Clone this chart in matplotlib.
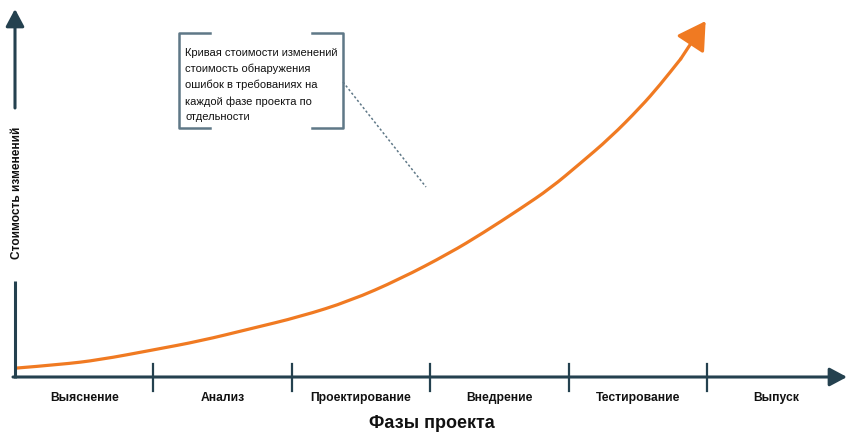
import matplotlib
matplotlib.use("Agg")
import matplotlib.pyplot as plt
from matplotlib import font_manager
from matplotlib.path import Path
from matplotlib.patches import PathPatch

# ---------------- data ----------------
phases = ["Выяснение", "Анализ", "Проектирование", "Внедрение", "Тестирование", "Выпуск"]
curve_phase = [0.01, 0.33, 0.61, 1.00, 1.34, 1.70, 2.06, 2.42, 2.78, 3.14, 3.38,
               3.65, 3.87, 4.08, 4.30, 4.52, 4.66, 4.81, 4.99]
curve_cost = [2.5, 3.5, 4.8, 7.6, 10.1, 13.5, 16.9, 21.3, 27.4, 34.7, 40.3,
              47.1, 52.9, 59.7, 67.0, 75.6, 81.8, 89.1, 99.7]
phase_ticks = [1, 2, 3, 4, 5]
ylabel = "Стоимость изменений"
xlabel = "Фазы проекта"
note = ("Кривая стоимости изменений\nстоимость обнаружения\nошибок в требованиях на\n"
        "каждой фазе проекта по\nотдельности")

# ---------------- style ----------------
W, H = 847, 434
ORANGE = "#f07a22"
AXC = "#24414f"
BRC = "#5f7887"

names = {f.name for f in font_manager.fontManager.ttflist}
FAM = [n for n in ["Liberation Sans", "DejaVu Sans"] if n in names]
plt.rcParams["font.family"] = FAM

fig = plt.figure(figsize=(W / 100, H / 100), dpi=100)
ax = fig.add_axes([0, 0, 1, 1])
ax.set_axis_off()

# pixel -> data mapping (layout only)
X0, PX_PER_PHASE = 15.0, 138.4
Y0, PX_PER_COST = 377.0, 3.57
def px(x):
    return (x - X0) / PX_PER_PHASE
def py(y):
    return (Y0 - y) / PX_PER_COST

ax.set_xlim(px(0), px(W))
ax.set_ylim(py(H), py(0))

# axes lines with arrows
ax.annotate("", xy=(px(847), 0), xytext=(px(13), 0),
            arrowprops=dict(arrowstyle="-|>,head_length=0.75,head_width=0.4",
                            mutation_scale=14, color=AXC, lw=2.2, shrinkA=0, shrinkB=0))
ax.annotate("", xy=(0, py(9)), xytext=(0, py(108)),
            arrowprops=dict(arrowstyle="-|>,head_length=0.75,head_width=0.4",
                            mutation_scale=14, color=AXC, lw=2.2, shrinkA=0, shrinkB=0))
ax.plot([0, 0], [py(281), py(378)], color=AXC, lw=2.2, solid_capstyle="butt")

for t in phase_ticks:
    ax.plot([t, t], [py(364), py(391)], color=AXC, lw=1.6)

# phase labels
for i, name in enumerate(phases):
    ax.text(i + 0.5, py(398), name, ha="center", va="center", fontsize=8.7,
            fontweight="bold", color="#111111")
ax.text(px(432), py(424), xlabel, ha="center", va="center", fontsize=13,
        fontweight="bold", color="#111111")
ax.text(px(17), py(193), ylabel, ha="center", va="center", rotation=90,
        fontsize=8.6, fontweight="bold", color="#111111")

# cost curve (smooth quadratic path through the read points, arrow on last segment)
pts = list(zip(curve_phase[:-1], curve_cost[:-1]))
verts = [pts[0]]
codes = [Path.MOVETO]
for k in range(1, len(pts) - 1):
    mid = ((pts[k][0] + pts[k + 1][0]) / 2, (pts[k][1] + pts[k + 1][1]) / 2)
    verts += [pts[k], mid]
    codes += [Path.CURVE3, Path.CURVE3]
verts.append(pts[-1])
codes.append(Path.LINETO)
ax.add_patch(PathPatch(Path(verts, codes), facecolor="none", edgecolor=ORANGE,
                       lw=2.3, capstyle="round", joinstyle="round"))
ax.annotate("", xy=(curve_phase[-1], curve_cost[-1]),
            xytext=(curve_phase[-2], curve_cost[-2]),
            arrowprops=dict(arrowstyle="-|>,head_length=0.85,head_width=0.5",
                            mutation_scale=20, color=ORANGE, lw=2.3,
                            shrinkA=0, shrinkB=0))

# bracket box
ax.plot([px(210), px(179), px(179), px(210)], [py(33), py(33), py(128), py(128)],
        color=BRC, lw=1.8)
ax.plot([px(312), px(343), px(343), px(312)], [py(33), py(33), py(128), py(128)],
        color=BRC, lw=1.8)
ax.text(px(185), py(85), note, ha="left", va="center", fontsize=8,
        linespacing=1.7, color="#111111")
ax.plot([px(343), px(426)], [py(82), py(187)], color=BRC, lw=1.1,
        linestyle=(0, (1.5, 1.5)))

fig.savefig("out.png", dpi=100)
